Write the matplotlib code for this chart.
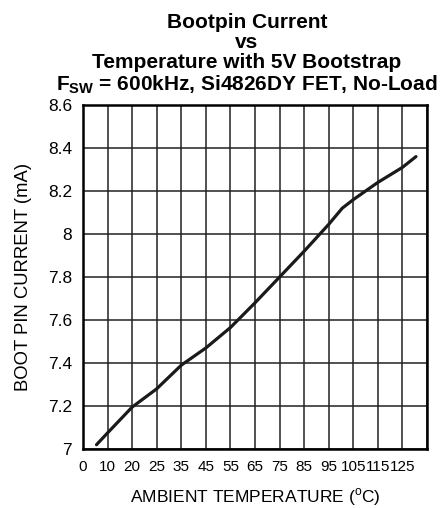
import matplotlib
matplotlib.use("Agg")
import matplotlib.pyplot as plt

plt.rcParams["font.family"] = ["Liberation Sans", "DejaVu Sans"]
plt.rcParams["mathtext.fontset"] = "custom"
plt.rcParams["mathtext.rm"] = "Liberation Sans"
plt.rcParams["mathtext.bf"] = "Liberation Sans:bold"

# x tick labels are evenly spaced on the original chart (not linear in temperature)
tick_labels = ["0", "10", "20", "25", "35", "45", "55", "65", "75", "85", "95", "105", "115", "125"]
y_ticks = [7, 7.2, 7.4, 7.6, 7.8, 8, 8.2, 8.4, 8.6]

# curve, x given in grid positions (0 = "0" gridline, 13 = "125" gridline)
temp_pos = [0.55, 1.0, 2.0, 3.0, 4.0, 5.0, 6.0, 7.0, 8.0, 9.0, 10.0, 10.55, 11.0, 12.0, 13.0, 13.55]
current_ma = [7.02, 7.075, 7.195, 7.28, 7.39, 7.47, 7.565, 7.68, 7.80, 7.92, 8.045, 8.12, 8.16, 8.24, 8.31, 8.36]

fig = plt.figure(figsize=(4.45, 5.08), dpi=100)
ax = fig.add_axes([0.1865, 0.1161, 0.7731, 0.6772])

ax.plot(temp_pos, current_ma, color="#1a1a1a", lw=2.3, solid_capstyle="round")

ax.set_xlim(0, 14)
ax.set_ylim(7, 8.6)
ax.set_xticks(range(15))
ax.set_xticklabels(tick_labels + [""], fontsize=11)
ax.set_yticks(y_ticks)
ax.set_yticklabels([f"{v:g}" for v in y_ticks], fontsize=12.5)
ax.tick_params(length=0, pad=8)
ax.grid(True, color="#222222", lw=1.1)
for s in ax.spines.values():
    s.set_linewidth(1.8)
    s.set_color("black")

ax.set_xlabel("AMBIENT TEMPERATURE ($^{\\mathrm{o}}$C)", fontsize=12.5, labelpad=9)
ax.set_ylabel("BOOT PIN CURRENT (mA)", fontsize=13.3, labelpad=11)

fig.text(0.555, 0.812,
         "Bootpin Current\nvs\nTemperature with 5V Bootstrap\n"
         "F$_{\\mathbf{SW}}$ = 600kHz, Si4826DY FET, No-Load",
         ha="center", va="bottom", fontsize=15, fontweight="bold",
         linespacing=1.06, multialignment="center")

fig.savefig("out.png", dpi=100)
